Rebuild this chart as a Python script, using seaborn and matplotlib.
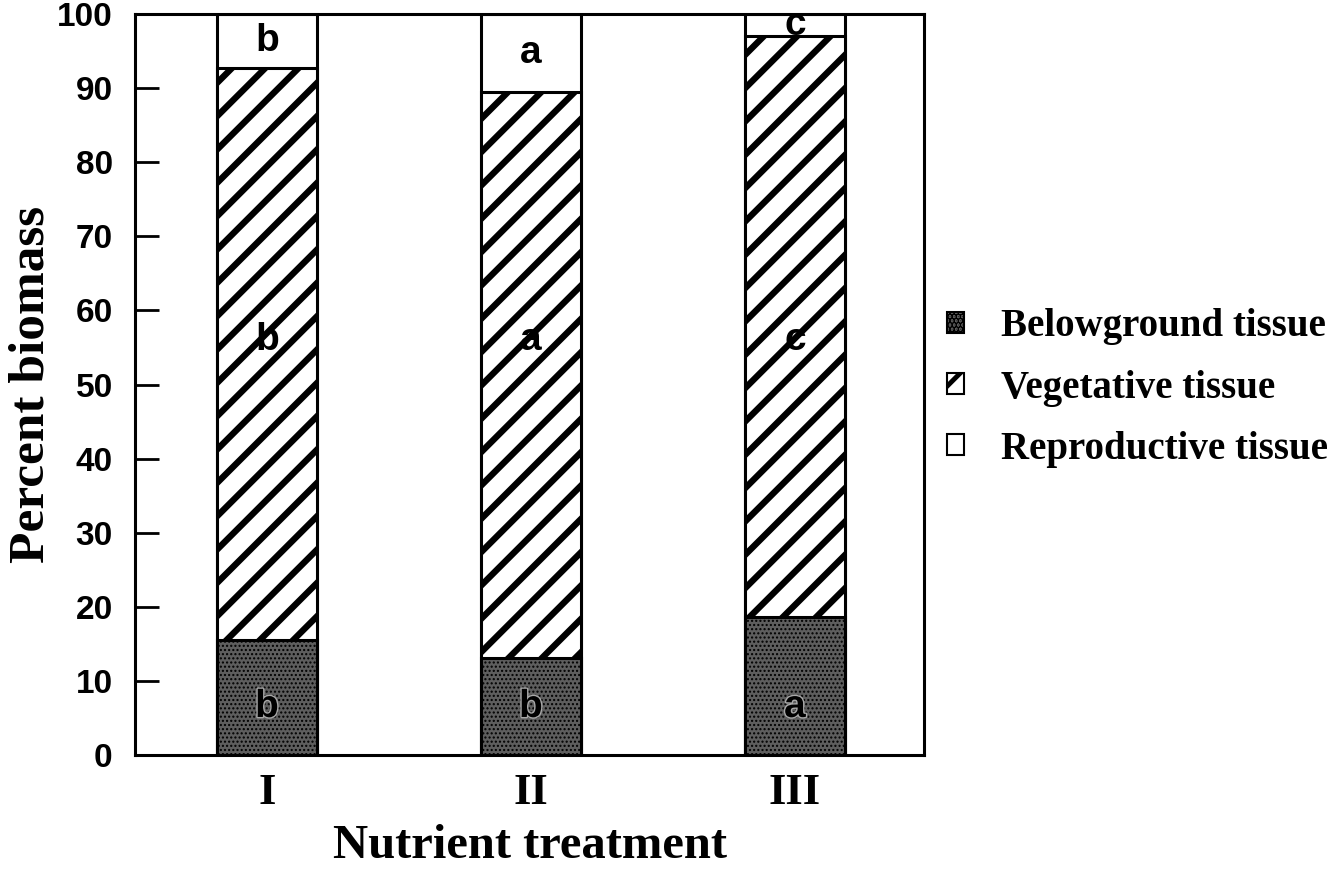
import matplotlib
matplotlib.use("Agg")
import matplotlib.pyplot as plt
import matplotlib.patheffects as pe
import seaborn as sns
import pandas as pd
import numpy as np
from matplotlib.patches import Patch

# ---- data ----
treatments = ["I", "II", "III"]
belowground = [15.6, 13.1, 18.7]
vegetative = [77.1, 76.4, 78.3]
reproductive = [7.3, 10.5, 3.0]
below_letters = ["b", "b", "a"]
veg_letters = ["b", "a", "c"]
repro_letters = ["b", "a", "c"]
series_names = ["Belowground tissue", "Vegetative tissue", "Reproductive tissue"]
y_ticks = [0, 10, 20, 30, 40, 50, 60, 70, 80, 90, 100]

sns.set_style("white")
for k in ["text.color", "axes.labelcolor", "xtick.color", "ytick.color", "axes.edgecolor"]:
    plt.rcParams[k] = "black"

STRIPE_LW = 4.6
DOT_LW = 1.0
STIPPLE = "#5e5e5e"

df = pd.DataFrame({
    "treatment": treatments,
    "below": belowground,
    "veg": vegetative,
    "repro": reproductive,
})
df["cum_below"] = df["below"]
df["cum_veg"] = df["below"] + df["veg"]
df["cum_repro"] = df["cum_veg"] + df["repro"]

fig = plt.figure(figsize=(13.4, 8.72), dpi=100)
ax = fig.add_axes([0.1007, 0.134, 0.589, 0.850])

bw = 0.38
sns.barplot(data=df, x="treatment", y="cum_repro", order=treatments, ax=ax,
            color="white", edgecolor="black", linewidth=2.2, width=bw, saturation=1)
plt.rcParams["hatch.linewidth"] = STRIPE_LW
sns.barplot(data=df, x="treatment", y="cum_veg", order=treatments, ax=ax,
            color="white", edgecolor="black", linewidth=2.2, width=bw, saturation=1,
            hatch="/")
plt.rcParams["hatch.linewidth"] = DOT_LW
sns.barplot(data=df, x="treatment", y="cum_below", order=treatments, ax=ax,
            color=STIPPLE, edgecolor="black", linewidth=2.2, width=bw, saturation=1,
            hatch="....")

# letters
lfont = dict(fontfamily="Liberation Sans", fontweight="bold", fontsize=28,
             ha="center", va="center", color="black")
for i in range(len(treatments)):
    ax.text(i, 6.5, below_letters[i],
            path_effects=[pe.withStroke(linewidth=2.0, foreground="#a8a8a8")], **lfont)
    ax.text(i, 56, veg_letters[i], **lfont)
    ax.text(i, (df["cum_veg"][i] + df["cum_repro"][i]) / 2, repro_letters[i], **lfont)

ax.set_xlim(-0.5, 2.49)
ax.set_ylim(0, 100)
ax.set_yticks(y_ticks)
ax.set_yticklabels([str(t) for t in y_ticks], fontfamily="Liberation Sans",
                   fontweight="bold", fontsize=24)
ax.set_xticks(range(len(treatments)))
ax.set_xticklabels(treatments, fontfamily="Liberation Serif", fontweight="bold", fontsize=32)
ax.tick_params(axis="y", direction="in", length=17, width=2, pad=16, left=True)
ax.tick_params(axis="x", length=0, pad=13)

for s in ax.spines.values():
    s.set_visible(True)
    s.set_linewidth(2.2)
    s.set_color("black")

ax.set_xlabel("Nutrient treatment", fontfamily="Liberation Serif", fontweight="bold",
              fontsize=35, labelpad=8)
ax.set_ylabel("Percent biomass", fontfamily="Liberation Serif", fontweight="bold",
              fontsize=37, labelpad=2)

plt.rcParams["hatch.linewidth"] = DOT_LW
h_below = Patch(facecolor=STIPPLE, edgecolor="black", hatch="....", linewidth=1.5)
plt.rcParams["hatch.linewidth"] = 3.5
h_veg = Patch(facecolor="white", edgecolor="black", hatch="/", linewidth=1.5)
h_repro = Patch(facecolor="white", edgecolor="black", linewidth=1.5)
leg = fig.legend([h_below, h_veg, h_repro], series_names, loc="center left",
                 bbox_to_anchor=(0.695, 0.555),
                 frameon=False, prop=dict(family="Liberation Serif", weight="bold", size=28),
                 handlelength=0.45, handleheight=0.45, handletextpad=0.95,
                 labelspacing=0.62, borderaxespad=0)

fig.savefig("out.png", dpi=100)
